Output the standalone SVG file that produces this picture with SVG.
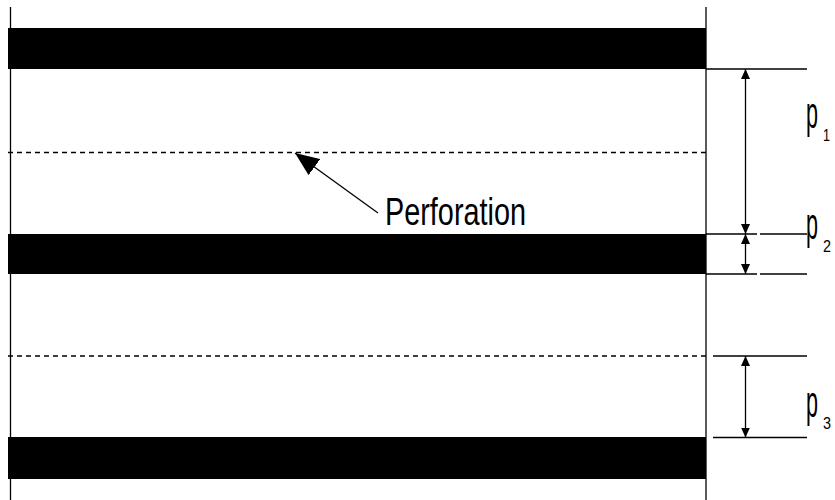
<svg xmlns="http://www.w3.org/2000/svg" width="835" height="500" viewBox="0 0 835 500">
<style>
.ln{stroke:#000;stroke-width:1.3;fill:none}
.dash{stroke:#000;stroke-width:1.3;stroke-dasharray:5,4;fill:none}
.bar{fill:#000}
.lbl{font-family:"Liberation Sans",Arial,sans-serif;fill:#000}
.p{font-size:44px}
.sub{font-size:17px}
</style>
<defs>
<marker id="ah" viewBox="0 0 10 9" refX="10" refY="4.5" markerWidth="10" markerHeight="9" markerUnits="userSpaceOnUse" orient="auto-start-reverse">
<path d="M0,0 L10,4.5 L0,9 Z" fill="#000"/>
</marker>
<marker id="big" viewBox="0 0 24 20" refX="24" refY="10" markerWidth="24" markerHeight="20" markerUnits="userSpaceOnUse" orient="auto">
<path d="M0,0 L24,10 L0,20 Z" fill="#000"/>
</marker>
</defs>
<rect width="835" height="500" fill="#fff"/>
<g id="frame">
<line class="ln" x1="10.5" y1="7" x2="10.5" y2="500"/>
<line class="ln" x1="706" y1="7" x2="706" y2="500"/>
</g>
<g id="bar1"><rect class="bar" x="8" y="28" width="698" height="41"/></g>
<g id="bar2"><rect class="bar" x="8" y="234" width="698" height="40"/></g>
<g id="bar3"><rect class="bar" x="8" y="437" width="698" height="42"/></g>
<g id="perf1"><line class="dash" x1="8" y1="152.5" x2="706" y2="152.5"/></g>
<g id="perf2"><line class="dash" x1="8" y1="356" x2="706" y2="356"/></g>
<g id="dims">
<line class="ln" x1="706" y1="69" x2="807" y2="69"/>
<line class="ln" x1="706" y1="234" x2="757" y2="234"/>
<line class="ln" x1="760" y1="234" x2="807" y2="234"/>
<line class="ln" x1="706" y1="274" x2="757" y2="274"/>
<line class="ln" x1="760" y1="274" x2="807" y2="274"/>
<line class="ln" x1="713" y1="356" x2="807" y2="356"/>
<line class="ln" x1="713" y1="437.5" x2="807" y2="437.5"/>
</g>
<g id="connectors">
<line class="ln" x1="745.5" y1="69" x2="745.5" y2="234" marker-start="url(#ah)" marker-end="url(#ah)"/>
<line class="ln" x1="745.5" y1="234" x2="745.5" y2="274" marker-start="url(#ah)" marker-end="url(#ah)"/>
<line class="ln" x1="745.5" y1="356" x2="745.5" y2="437.5" marker-start="url(#ah)" marker-end="url(#ah)"/>
<line class="ln" x1="378" y1="213" x2="295" y2="153" marker-end="url(#big)"/>
</g>
<g id="label-perforation"><text class="lbl" x="385" y="225" font-size="38" textLength="141" lengthAdjust="spacingAndGlyphs">Perforation</text></g>
<g id="label-p1"><text class="lbl"><tspan class="p" x="806" y="128" textLength="12" lengthAdjust="spacingAndGlyphs">p</tspan><tspan class="sub" x="823" y="141" textLength="7" lengthAdjust="spacingAndGlyphs">1</tspan></text></g>
<g id="label-p2"><text class="lbl"><tspan class="p" x="806" y="239" textLength="12" lengthAdjust="spacingAndGlyphs">p</tspan><tspan class="sub" x="823" y="252" textLength="8" lengthAdjust="spacingAndGlyphs">2</tspan></text></g>
<g id="label-p3"><text class="lbl"><tspan class="p" x="806" y="417" textLength="12" lengthAdjust="spacingAndGlyphs">p</tspan><tspan class="sub" x="823" y="429" textLength="8" lengthAdjust="spacingAndGlyphs">3</tspan></text></g>
</svg>
